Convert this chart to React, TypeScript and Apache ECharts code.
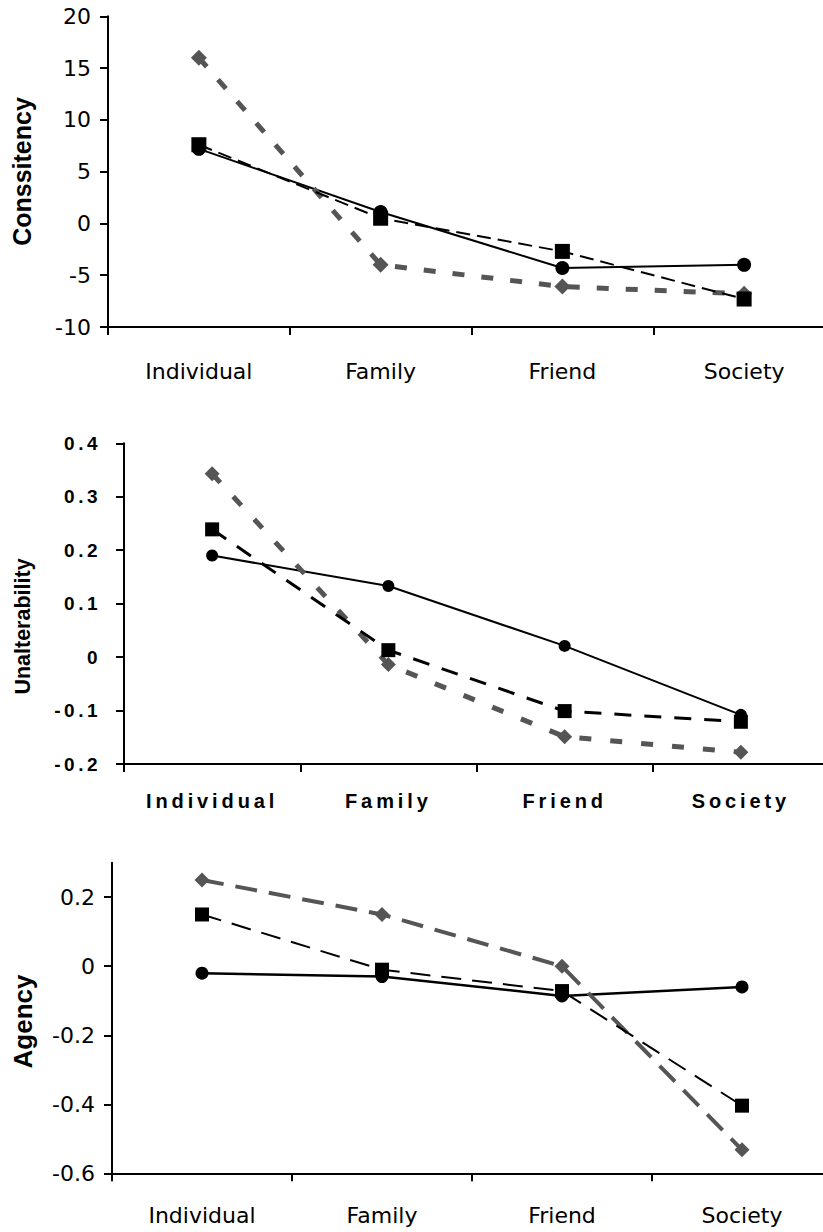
import React, { useEffect, useRef } from "react";
import * as echarts from "echarts";

const categories = ["Individual", "Family", "Friend", "Society"];

// Panel 1 — Conssitency
const consistencyCircle = [7.2, 1.1, -4.3, -4.0];
const consistencySquare = [7.6, 0.5, -2.7, -7.3];
const consistencyDiamond = [16.0, -4.0, -6.1, -6.8];

// Panel 2 — Unalterability
const unalterCircle = [0.19, 0.133, 0.021, -0.108];
const unalterSquare = [0.239, 0.013, -0.101, -0.121];
const unalterDiamond = [0.343, -0.014, -0.149, -0.178];

// Panel 3 — Agency
const agencyCircle = [-0.02, -0.03, -0.086, -0.06];
const agencySquare = [0.15, -0.01, -0.072, -0.404];
const agencyDiamond = [0.25, 0.15, 0.0, -0.532];
const agencyTicks = [-0.6, -0.4, -0.2, 0, 0.2];

const axisNames = ["Conssitency", "Unalterability", "Agency"];

const GRAY = "#555555";
const BLACK = "#000000";
const PLAIN = "DejaVu Sans";
const ARIAL = "Liberation Sans";

export default function App() {
  const ref = useRef<HTMLDivElement>(null);

  useEffect(() => {
    document.body.style.margin = "0";
    const chart = echarts.init(ref.current!, undefined, { renderer: "svg" });

    const axisLineStyle = { lineStyle: { color: BLACK, width: 2 } };
    const xAxisCommon = (gridIndex: number, font: any, margin: number) => ({
      type: "category",
      gridIndex,
      data: categories,
      boundaryGap: true,
      axisLine: { show: true, onZero: false, ...axisLineStyle },
      axisTick: { show: true, inside: false, length: 8, alignWithLabel: false, lineStyle: { color: BLACK, width: 2 } },
      axisLabel: { show: true, interval: 0, color: BLACK, margin, ...font },
      splitLine: { show: false },
    });
    const yAxisCommon = (gridIndex: number, font: any, margin: number, extra: any) => ({
      type: "value",
      gridIndex,
      axisLine: { show: true, onZero: false, ...axisLineStyle },
      axisTick: { show: true, inside: false, length: 8, lineStyle: { color: BLACK, width: 2 } },
      axisLabel: { show: true, color: BLACK, margin, ...font },
      splitLine: { show: false },
      ...extra,
    });

    const plainFont = { fontFamily: PLAIN, fontSize: 22, fontWeight: "normal" };
    const boldCat = { fontFamily: ARIAL, fontSize: 20, fontWeight: "bold" };
    const boldNum = { fontFamily: ARIAL, fontSize: 19, fontWeight: "bold" };

    const mkSeries = (
      idx: number,
      data: number[],
      symbol: string,
      size: number | number[],
      color: string,
      width: number,
      type: any
    ) => ({
      type: "line",
      xAxisIndex: idx,
      yAxisIndex: idx,
      data,
      symbol,
      symbolSize: size,
      showSymbol: true,
      itemStyle: { color, borderWidth: 0 },
      lineStyle: { color, width, type },
      emphasis: { disabled: true },
      silent: true,
    });

    const option: any = {
      animation: false,
      backgroundColor: "#ffffff",
      grid: [
        { left: 108, top: 16.3, width: 727, height: 310.7, outerBoundsMode: "none", containLabel: false },
        { left: 124, top: 443.3, width: 705, height: 320.7, outerBoundsMode: "none", containLabel: false },
        { left: 112, top: 862.7, width: 720, height: 310.6, outerBoundsMode: "none", containLabel: false },
      ],
      xAxis: [
        xAxisCommon(0, plainFont, 33),
        xAxisCommon(1, boldCat, 27),
        xAxisCommon(2, plainFont, 31),
      ],
      yAxis: [
        yAxisCommon(0, plainFont, 17, { min: -10, max: 20, interval: 5 }),
        yAxisCommon(1, boldNum, 23, { min: -0.2, max: 0.4, interval: 0.1 }),
        yAxisCommon(2, plainFont, 17, {
          min: -0.6,
          max: 0.3,
          axisLabel: { show: true, color: BLACK, margin: 17, ...plainFont, customValues: agencyTicks },
          axisTick: {
            show: true,
            inside: false,
            length: 8,
            lineStyle: { color: BLACK, width: 2 },
            customValues: agencyTicks,
          },
        }),
      ],
      series: [
        mkSeries(0, consistencyCircle, "circle", 14, BLACK, 2, "solid"),
        mkSeries(0, consistencyDiamond, "diamond", 16, GRAY, 5, [12, 17]),
        mkSeries(0, consistencySquare, "rect", 15, BLACK, 2, [14, 7]),

        mkSeries(1, unalterCircle, "circle", 12, BLACK, 2, "solid"),
        mkSeries(1, unalterDiamond, "diamond", 15, GRAY, 5, [12, 19]),
        mkSeries(1, unalterSquare, "rect", 14, BLACK, 3, [17, 13]),

        mkSeries(2, agencyCircle, "circle", 13, BLACK, 2.5, "solid"),
        mkSeries(2, agencyDiamond, "diamond", 15, GRAY, 4, [22, 12]),
        mkSeries(2, agencySquare, "rect", 14, BLACK, 2, [20, 11]),
      ],
      graphic: [
        {
          type: "text",
          x: 22,
          y: 171.5,
          rotation: Math.PI / 2,
          style: {
            text: axisNames[0],
            fontFamily: ARIAL,
            fontSize: 25,
            fontWeight: "bold",
            fill: BLACK,
            align: "center",
            verticalAlign: "middle",
          },
        },
        {
          type: "text",
          x: 22.5,
          y: 626.5,
          rotation: Math.PI / 2,
          style: {
            text: axisNames[1],
            fontFamily: ARIAL,
            fontSize: 21.5,
            fontWeight: "bold",
            fill: BLACK,
            align: "center",
            verticalAlign: "middle",
          },
        },
        {
          type: "text",
          x: 23,
          y: 1021.5,
          rotation: Math.PI / 2,
          style: {
            text: axisNames[2],
            fontFamily: ARIAL,
            fontSize: 26,
            fontWeight: "bold",
            fill: BLACK,
            align: "center",
            verticalAlign: "middle",
          },
        },
      ],
    };

    chart.setOption(option);

    // widen the spacing of the bold labels of the middle panel
    const texts = ref.current!.querySelectorAll("svg text");
    texts.forEach((el) => {
      const t = (el.textContent || "").trim();
      if (axisNames.includes(t)) return;
      const fw = window.getComputedStyle(el).fontWeight;
      if (fw === "bold" || fw === "700") {
        (el as SVGElement).style.letterSpacing = /^-?[0-9.]+$/.test(t) ? "3.5px" : "3.9px";
      }
    });

    return () => {
      chart.dispose();
    };
  }, []);

  return <div ref={ref} style={{ width: 823, height: 1232 }} />;
}
